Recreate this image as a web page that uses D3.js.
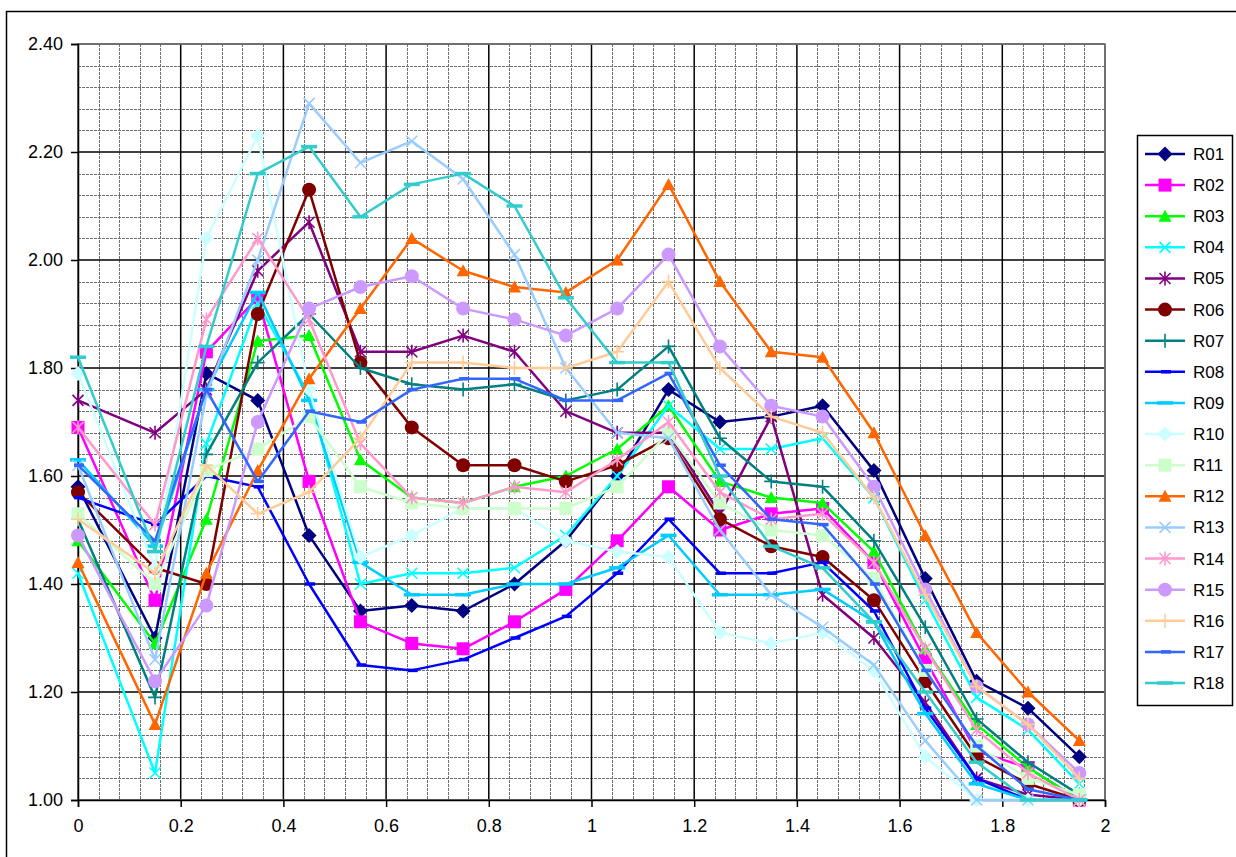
<!DOCTYPE html>
<html>
<head>
<meta charset="utf-8">
<script src="https://cdn.jsdelivr.net/npm/d3@7"></script>
<style>
  body { margin: 0; background: #fff; }
  text { font-family: "Liberation Sans", Arial, sans-serif; fill: #000; }
</style>
</head>
<body>
<div id="chart"></div>
<script>
// x positions of the measurements
var xValues = [0, 0.15, 0.25, 0.35, 0.45, 0.55, 0.65, 0.75, 0.85, 0.95, 1.05, 1.15, 1.25, 1.35, 1.45, 1.55, 1.65, 1.75, 1.85, 1.95];

var seriesNames = ["R01", "R02", "R03", "R04", "R05", "R06", "R07", "R08", "R09",
                   "R10", "R11", "R12", "R13", "R14", "R15", "R16", "R17", "R18"];

var R01 = [1.58, 1.30, 1.79, 1.74, 1.49, 1.35, 1.36, 1.35, 1.40, 1.48, 1.60, 1.76, 1.70, 1.71, 1.73, 1.61, 1.41, 1.22, 1.17, 1.08];
var R02 = [1.69, 1.37, 1.83, 1.93, 1.59, 1.33, 1.29, 1.28, 1.33, 1.39, 1.48, 1.58, 1.50, 1.53, 1.54, 1.44, 1.26, 1.09, 1.06, 1.00];
var R03 = [1.48, 1.29, 1.52, 1.85, 1.86, 1.63, 1.56, 1.55, 1.58, 1.60, 1.65, 1.73, 1.59, 1.56, 1.55, 1.46, 1.28, 1.14, 1.06, 1.00];
var R04 = [1.42, 1.05, 1.66, 1.92, 1.75, 1.40, 1.42, 1.42, 1.43, 1.49, 1.60, 1.73, 1.65, 1.65, 1.67, 1.56, 1.37, 1.19, 1.13, 1.03];
var R05 = [1.74, 1.68, 1.76, 1.98, 2.07, 1.83, 1.83, 1.86, 1.83, 1.72, 1.68, 1.68, 1.53, 1.71, 1.38, 1.30, 1.18, 1.04, 1.01, 1.00];
var R06 = [1.57, 1.43, 1.40, 1.90, 2.13, 1.81, 1.69, 1.62, 1.62, 1.59, 1.62, 1.67, 1.52, 1.47, 1.45, 1.37, 1.22, 1.08, 1.03, 1.00];
var R07 = [1.52, 1.19, 1.64, 1.81, 1.90, 1.80, 1.77, 1.76, 1.77, 1.74, 1.76, 1.84, 1.67, 1.59, 1.58, 1.48, 1.32, 1.15, 1.07, 1.01];
var R08 = [1.56, 1.51, 1.60, 1.58, 1.40, 1.25, 1.24, 1.26, 1.30, 1.34, 1.42, 1.52, 1.42, 1.42, 1.44, 1.35, 1.17, 1.04, 1.00, 1.00];
var R09 = [1.63, 1.47, 1.76, 1.94, 1.74, 1.44, 1.38, 1.38, 1.40, 1.40, 1.43, 1.49, 1.38, 1.38, 1.39, 1.33, 1.16, 1.03, 1.00, 1.00];
var R10 = [1.79, 1.43, 2.04, 2.23, 1.76, 1.45, 1.49, 1.54, 1.54, 1.48, 1.46, 1.45, 1.31, 1.29, 1.31, 1.24, 1.08, 1.00, 1.00, 1.00];
var R11 = [1.53, 1.40, 1.61, 1.65, 1.71, 1.58, 1.55, 1.54, 1.54, 1.54, 1.58, 1.68, 1.55, 1.50, 1.49, 1.41, 1.24, 1.10, 1.04, 1.01];
var R12 = [1.44, 1.14, 1.42, 1.61, 1.78, 1.91, 2.04, 1.98, 1.95, 1.94, 2.00, 2.14, 1.96, 1.83, 1.82, 1.68, 1.49, 1.31, 1.20, 1.11];
var R13 = [1.62, 1.26, 1.75, 2.00, 2.29, 2.18, 2.22, 2.15, 2.01, 1.80, 1.68, 1.67, 1.50, 1.38, 1.32, 1.25, 1.11, 1.00, 1.00, 1.00];
var R14 = [1.69, 1.51, 1.89, 2.04, 1.89, 1.66, 1.56, 1.55, 1.58, 1.57, 1.63, 1.70, 1.57, 1.52, 1.53, 1.44, 1.28, 1.13, 1.05, 1.00];
var R15 = [1.49, 1.22, 1.36, 1.70, 1.91, 1.95, 1.97, 1.91, 1.89, 1.86, 1.91, 2.01, 1.84, 1.73, 1.71, 1.58, 1.39, 1.21, 1.14, 1.05];
var R16 = [1.52, 1.42, 1.62, 1.53, 1.57, 1.67, 1.81, 1.81, 1.80, 1.80, 1.83, 1.96, 1.80, 1.71, 1.68, 1.56, 1.38, 1.21, 1.14, 1.04];
var R17 = [1.62, 1.48, 1.76, 1.59, 1.72, 1.70, 1.76, 1.78, 1.78, 1.74, 1.74, 1.79, 1.62, 1.52, 1.51, 1.40, 1.24, 1.10, 1.02, 1.00];
var R18 = [1.82, 1.46, 1.84, 2.16, 2.21, 2.08, 2.14, 2.16, 2.10, 1.93, 1.81, 1.81, 1.60, 1.47, 1.43, 1.33, 1.20, 1.07, 1.00, 1.00];

var seriesValues = [R01, R02, R03, R04, R05, R06, R07, R08, R09, R10, R11, R12, R13, R14, R15, R16, R17, R18];

var xTicks = [0, 0.2, 0.4, 0.6, 0.8, 1, 1.2, 1.4, 1.6, 1.8, 2];
var yTicks = [1.0, 1.2, 1.4, 1.6, 1.8, 2.0, 2.2, 2.4];

// styles (Excel-like colour cycle and marker cycle)
var colors = ["#000080", "#FF00FF", "#00FF00", "#00FFFF", "#800080", "#800000", "#008080", "#0000FF", "#00CCFF",
              "#CCFFFF", "#CCFFCC", "#FF6600", "#99CCFF", "#FF99CC", "#CC99FF", "#FFCC99", "#3366FF", "#33CCCC"];
var markers = ["diamond", "square", "triangle", "x", "star", "circle", "plus", "dash", "longdash",
               "diamond", "square", "triangle", "x", "star", "circle", "plus", "dash", "longdash"];

// Set up the chart viewport
var svgWidth = 1236;
var svgHeight = 857;
var plot = { left: 78, top: 44, right: 1105, bottom: 800 };

var svg = d3.select("#chart")
  .append("svg")
  .attr("width", svgWidth)
  .attr("height", svgHeight);

svg.append("rect")
  .attr("width", svgWidth).attr("height", svgHeight)
  .attr("fill", "#fff");

// outer chart border (runs off the right / bottom edges)
svg.append("rect")
  .attr("x", 6.5).attr("y", 11.5)
  .attr("width", svgWidth + 20).attr("height", svgHeight + 20)
  .attr("fill", "none").attr("stroke", "#000").attr("stroke-width", 1.5);

var xScale = d3.scaleLinear().domain([0, 2]).range([plot.left, plot.right]);
var yScale = d3.scaleLinear().domain([1, 2.4]).range([plot.bottom, plot.top]);

// minor grid (every 0.04)
var minorX = d3.range(0, 51).map(i => i * 0.04).filter((v, i) => i % 5 !== 0);
var minorY = d3.range(0, 36).map(i => 1 + i * 0.04).filter((v, i) => i % 5 !== 0);

var grid = svg.append("g");
grid.selectAll(".mx")
  .data(minorX)
  .enter()
  .append("line")
  .attr("x1", d => Math.round(xScale(d)) + 0.5)
  .attr("x2", d => Math.round(xScale(d)) + 0.5)
  .attr("y1", plot.top).attr("y2", plot.bottom)
  .attr("stroke", "#6e6e6e").attr("stroke-width", 1).attr("stroke-dasharray", "3,1");
grid.selectAll(".my")
  .data(minorY)
  .enter()
  .append("line")
  .attr("y1", d => Math.round(yScale(d)) + 0.5)
  .attr("y2", d => Math.round(yScale(d)) + 0.5)
  .attr("x1", plot.left).attr("x2", plot.right)
  .attr("stroke", "#6e6e6e").attr("stroke-width", 1).attr("stroke-dasharray", "3,1");

// major grid
grid.selectAll(".Mx")
  .data(xTicks)
  .enter()
  .append("line")
  .attr("x1", d => xScale(d)).attr("x2", d => xScale(d))
  .attr("y1", plot.top).attr("y2", plot.bottom)
  .attr("stroke", "#000").attr("stroke-width", 1.5);
grid.selectAll(".My")
  .data(yTicks)
  .enter()
  .append("line")
  .attr("y1", d => yScale(d)).attr("y2", d => yScale(d))
  .attr("x1", plot.left).attr("x2", plot.right)
  .attr("stroke", "#000").attr("stroke-width", 1.5);

svg.append("rect")
  .attr("x", plot.left).attr("y", plot.top)
  .attr("width", plot.right - plot.left).attr("height", plot.bottom - plot.top)
  .attr("fill", "none").attr("stroke", "#808080").attr("stroke-width", 1.5);

// Axes
var leftAxis = d3.axisLeft(yScale).tickValues(yTicks).tickFormat(d3.format(".2f")).tickSize(7).tickPadding(8);
var bottomAxis = d3.axisBottom(xScale).tickValues(xTicks).tickFormat(d => String(+d.toFixed(1))).tickSize(7).tickPadding(12);

var yAxisG = svg.append("g")
  .attr("transform", `translate(${plot.left}, 0)`)
  .call(leftAxis);
var xAxisG = svg.append("g")
  .attr("transform", `translate(0, ${plot.bottom})`)
  .call(bottomAxis);

[yAxisG, xAxisG].forEach(function(g) {
  g.select(".domain").attr("stroke", "#000").attr("stroke-width", 1.5);
  g.selectAll(".tick line").attr("stroke", "#000").attr("stroke-width", 1.5);
  g.selectAll(".tick text").attr("font-size", 18).attr("font-family", "Liberation Sans, Arial, sans-serif").attr("fill", "#000");
});

// marker drawing
function drawMarker(sel, type, color) {
  if (type === "diamond") {
    sel.append("path").attr("d", "M0,-7.5L7.5,0L0,7.5L-7.5,0Z").attr("fill", color);
  } else if (type === "square") {
    sel.append("rect").attr("x", -6.5).attr("y", -6.5).attr("width", 13).attr("height", 13).attr("fill", color);
  } else if (type === "triangle") {
    sel.append("path").attr("d", "M0,-6.5L6.5,5.5L-6.5,5.5Z").attr("fill", color);
  } else if (type === "circle") {
    sel.append("circle").attr("r", 7).attr("fill", color);
  } else if (type === "x") {
    sel.append("path").attr("d", "M-5.5,-5.5L5.5,5.5M-5.5,5.5L5.5,-5.5")
      .attr("stroke", color).attr("stroke-width", 1.6).attr("fill", "none");
  } else if (type === "star") {
    sel.append("path").attr("d", "M-5.5,-5.5L5.5,5.5M-5.5,5.5L5.5,-5.5M0,-7L0,7")
      .attr("stroke", color).attr("stroke-width", 1.6).attr("fill", "none");
  } else if (type === "plus") {
    sel.append("path").attr("d", "M0,-7L0,7M-7,0L7,0")
      .attr("stroke", color).attr("stroke-width", 1.6).attr("fill", "none");
  } else if (type === "dash") {
    sel.append("path").attr("d", "M-4,0L6,0")
      .attr("stroke", color).attr("stroke-width", 3.5).attr("fill", "none");
  } else if (type === "longdash") {
    sel.append("path").attr("d", "M-8,0L8,0")
      .attr("stroke", color).attr("stroke-width", 3.5).attr("fill", "none");
  }
}

var lineGen = d3.line()
  .x((d, i) => xScale(xValues[i]))
  .y(d => yScale(d));

var seriesG = svg.append("g");
seriesValues.forEach(function(values, s) {
  var g = seriesG.append("g");
  g.append("path")
    .datum(values)
    .attr("d", lineGen)
    .attr("fill", "none")
    .attr("stroke", colors[s])
    .attr("stroke-width", 2.5)
    .attr("stroke-linejoin", "round");
  g.selectAll(".pt")
    .data(values)
    .enter()
    .append("g")
    .attr("transform", (d, i) => `translate(${xScale(xValues[i])}, ${yScale(d)})`)
    .each(function() { drawMarker(d3.select(this), markers[s], colors[s]); });
});

// Legend
var legend = svg.append("g");
legend.append("rect")
  .attr("x", 1137.5).attr("y", 135.5)
  .attr("width", 95).attr("height", 570)
  .attr("fill", "#fff").attr("stroke", "#000").attr("stroke-width", 1.5);

var legendY = d3.scalePoint().domain(seriesNames).range([154, 683]);
seriesNames.forEach(function(name, s) {
  var y = legendY(name);
  legend.append("line")
    .attr("x1", 1145).attr("x2", 1185).attr("y1", y).attr("y2", y)
    .attr("stroke", colors[s]).attr("stroke-width", 2.5);
  drawMarker(legend.append("g").attr("transform", `translate(1165, ${y})`), markers[s], colors[s]);
  legend.append("text")
    .attr("x", 1193).attr("y", y + 6)
    .attr("font-size", 17)
    .text(name);
});
</script>
</body>
</html>
